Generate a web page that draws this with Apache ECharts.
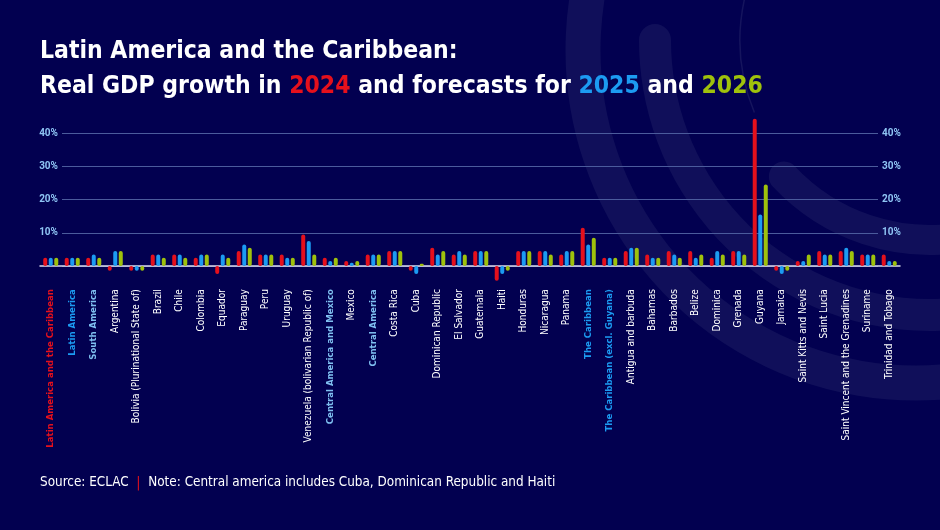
<!DOCTYPE html>
<html lang="en">
<head>
    <meta charset="UTF-8">
    <title>GDP growth LAC</title>
    <style>
        html, body { margin: 0; padding: 0; background: #020050; }
        #chart1 { width: 940px; height: 530px; }
    </style>
</head>
<body>
<script src="https://cdn.jsdelivr.net/npm/echarts@6/dist/echarts.min.js"></script>
<div id="chart1"></div>
<script type="text/javascript">
    // categories, in the order of the picture
    var countries = [
        'Latin America and the Caribbean', 'Latin America', 'South America', 'Argentina',
        'Bolivia (Plurinational State of)', 'Brazil', 'Chile', 'Colombia', 'Equador', 'Paraguay',
        'Peru', 'Uruguay', 'Venezuela (bolivarian Republic of)', 'Central America and Mexico',
        'Mexico', 'Central America', 'Costa Rica', 'Cuba', 'Dominican Republic', 'El Salvador',
        'Guatemala', 'Haiti', 'Honduras', 'Nicaragua', 'Panama', 'The Caribbean',
        'The Caribbean (excl. Guyana)', 'Antigua and barbuda', 'Bahamas', 'Barbados', 'Belize',
        'Dominica', 'Grenada', 'Guyana', 'Jamaica', 'Saint Kitts and Nevis', 'Saint Lucia',
        'Saint Vincent and the Grenadines', 'Suriname', 'Trinidad and Tobago'
    ];
    // label style key for each category (aggregates are coloured)
    var labelKind = [
        'lac', 'la', 'sub', 'c', 'c', 'c', 'c', 'c', 'c', 'c',
        'c', 'c', 'c', 'sub', 'c', 'sub', 'c', 'c', 'c', 'c',
        'c', 'c', 'c', 'c', 'c', 'la', 'la', 'c', 'c', 'c',
        'c', 'c', 'c', 'c', 'c', 'c', 'c', 'c', 'c', 'c'
    ];
    var gdp2024 = [2.5, 2.5, 2.5, -1.4, -1.4, 3.5, 3.5, 2.5, -2.4, 4.5,
        3.5, 3.5, 9.5, 2.5, 1.5, 3.5, 4.5, -1.4, 5.5, 3.5,
        4.5, -4.4, 4.5, 4.5, 3.5, 11.5, 2.5, 4.5, 3.5, 4.5,
        4.5, 2.5, 4.5, 44.3, -1.4, 1.5, 4.5, 4.5, 3.5, 3.5];
    var gdp2025 = [2.5, 2.5, 3.5, 4.5, -1.4, 3.5, 3.5, 3.5, 3.5, 6.5,
        3.5, 2.5, 7.5, 1.5, 1.0, 3.5, 4.5, -2.4, 3.5, 4.5,
        4.5, -2.4, 4.5, 4.5, 4.5, 6.5, 2.5, 5.5, 2.5, 3.5,
        2.5, 4.5, 4.5, 15.5, -2.4, 1.5, 3.5, 5.5, 3.5, 1.5];
    var gdp2026 = [2.5, 2.5, 2.5, 4.5, -1.4, 2.5, 2.5, 3.5, 2.5, 5.5,
        3.5, 2.5, 3.5, 2.5, 1.5, 3.5, 4.5, 0.7, 4.5, 3.5,
        4.5, -1.4, 4.5, 3.5, 4.5, 8.5, 2.5, 5.5, 2.5, 2.5,
        3.5, 3.5, 3.5, 24.5, -1.4, 3.5, 3.5, 4.5, 3.5, 1.5];
    var yTicks = [0, 10, 20, 30, 40];

    var RED = '#e5101c', BLUE = '#1c9bf2', GREEN = '#9fc10c';
    var narrow = "'DejaVu Sans Condensed', 'Liberation Sans', sans-serif";

    var myChart1 = echarts.init(document.getElementById('chart1'), null, {renderer: 'canvas'});

    function bar(name, data, color) {
        return {
            name: name,
            type: 'bar',
            xAxisIndex: 0,
            yAxisIndex: 0,
            data: data,
            barWidth: 4,
            barGap: '38%',
            itemStyle: {color: color, borderRadius: 2},
            silent: true
        };
    }

    function titleStyle(color) {
        return {color: color, fontSize: 24.5, fontWeight: 'bold', fontFamily: narrow, lineHeight: 34.5};
    }

    myChart1.setOption({
        backgroundColor: '#020050',
        animation: false,
        textStyle: {fontFamily: narrow},
        graphic: [
            // decorative rings behind the chart
            {type: 'arc', z: -10, shape: {cx: 916, cy: 50, r: 333, startAngle: -1.9, endAngle: 1.4, clockwise: false},
                style: {stroke: 'rgba(255,255,255,0.06)', lineWidth: 35, fill: null}},
            {type: 'arc', z: -10, shape: {cx: 930, cy: 40, r: 275, startAngle: 1.4, endAngle: Math.PI, clockwise: true},
                style: {stroke: 'rgba(255,255,255,0.06)', lineWidth: 32, lineCap: 'round', fill: null}},
            {type: 'arc', z: -10, shape: {cx: 930, cy: 40, r: 200, startAngle: 1.4, endAngle: 2.39, clockwise: true},
                style: {stroke: 'rgba(255,255,255,0.06)', lineWidth: 30, lineCap: 'round', fill: null}},
            {type: 'arc', z: -10, shape: {cx: 930, cy: 40, r: 190, startAngle: 2.75, endAngle: 3.36, clockwise: true},
                style: {stroke: 'rgba(255,255,255,0.08)', lineWidth: 1.5, fill: null}}
        ],
        title: [{
            left: 40,
            top: 34.75,
            padding: 0,
            text: '{w|Latin America and the Caribbean:}\n{w|Real GDP growth in }{r|2024}{w| and forecasts for }{b|2025}{w| and }{g|2026}',
            textStyle: {
                rich: {
                    w: titleStyle('#ffffff'),
                    r: titleStyle(RED),
                    b: titleStyle(BLUE),
                    g: titleStyle(GREEN)
                }
            }
        }, {
            left: 40,
            top: 474,
            padding: 0,
            text: '{w|Source: ECLAC  }{p||}{w|  Note: Central america includes Cuba, Dominican Republic and Haiti}',
            textStyle: {
                fontWeight: 'normal',
                rich: {
                    w: {color: '#ffffff', fontSize: 13.4, fontWeight: 'normal', fontFamily: narrow, lineHeight: 18},
                    p: {color: RED, fontSize: 14, fontWeight: 'normal', fontFamily: narrow, lineHeight: 18}
                }
            }
        }],
        grid: [
            // bars
            {left: 40, right: 40, top: 116.4, height: 166.25},
            // grid lines and % labels
            {left: 62, right: 62, top: 133, height: 133}
        ],
        xAxis: [{
            type: 'category',
            gridIndex: 0,
            data: countries,
            axisLine: {onZero: true, lineStyle: {color: '#dcdcee', width: 1.5}},
            axisTick: {show: false},
            axisLabel: {
                interval: 0,
                rotate: 90,
                margin: 6.5,
                formatter: function (v, i) {
                    return '{' + labelKind[i] + '|' + v + '}';
                },
                rich: {
                    c: {color: '#ffffff', fontSize: 10, fontFamily: narrow},
                    lac: {color: RED, fontSize: 9.5, fontWeight: 'bold', fontFamily: narrow},
                    la: {color: BLUE, fontSize: 9.5, fontWeight: 'bold', fontFamily: narrow},
                    sub: {color: '#7fbff0', fontSize: 9.5, fontWeight: 'bold', fontFamily: narrow}
                }
            }
        }, {
            type: 'value',
            gridIndex: 1,
            min: 0,
            max: 1,
            show: false
        }],
        yAxis: [{
            type: 'value',
            gridIndex: 0,
            min: -5,
            max: 45,
            show: false,
            splitLine: {show: false}
        }, {
            type: 'value',
            gridIndex: 1,
            position: 'left',
            min: yTicks[0],
            max: yTicks[yTicks.length - 1],
            interval: 10,
            axisLine: {show: false},
            axisTick: {show: false},
            splitLine: {lineStyle: {color: '#4b5b9c', width: 1}},
            axisLabel: {
                margin: 4,
                color: '#8fc4f4',
                fontSize: 10,
                fontWeight: 'bold',
                fontFamily: 'Roboto, sans-serif',
                formatter: function (v) { return v === 0 ? '' : v + '%'; }
            }
        }, {
            type: 'value',
            gridIndex: 1,
            position: 'right',
            min: yTicks[0],
            max: yTicks[yTicks.length - 1],
            interval: 10,
            axisLine: {show: false},
            axisTick: {show: false},
            splitLine: {show: false},
            axisLabel: {
                margin: 4,
                color: '#8fc4f4',
                fontSize: 10,
                fontWeight: 'bold',
                fontFamily: 'Roboto, sans-serif',
                formatter: function (v) { return v === 0 ? '' : v + '%'; }
            }
        }],
        series: [
            bar('2024', gdp2024, RED),
            bar('2025', gdp2025, BLUE),
            bar('2026', gdp2026, GREEN),
            {type: 'line', xAxisIndex: 1, yAxisIndex: 1, data: [], silent: true}
        ]
    });
</script>
</body>
</html>
